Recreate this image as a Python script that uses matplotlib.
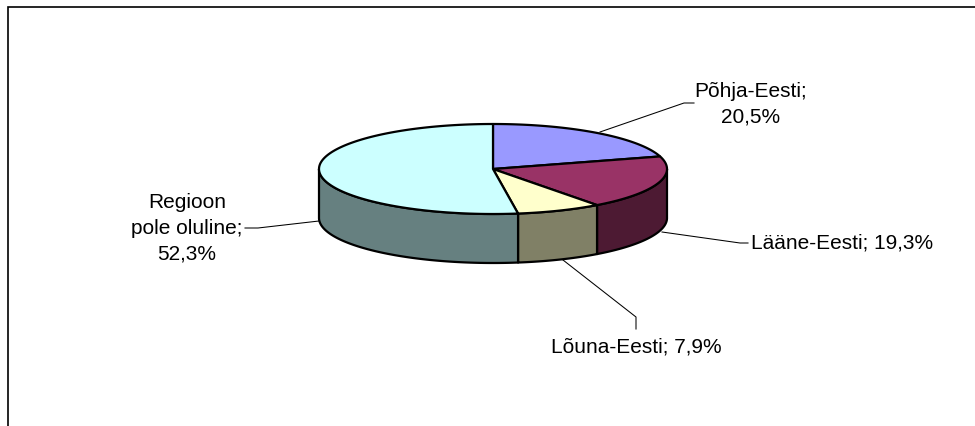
import numpy as np
import matplotlib
matplotlib.use("Agg")
import matplotlib.pyplot as plt
from matplotlib.patches import Polygon

plt.rcParams["font.family"] = ["Liberation Sans", "DejaVu Sans"]

labels = ["Põhja-Eesti;\n20,5%", "Lääne-Eesti; 19,3%", "Lõuna-Eesti; 7,9%", "Regioon\npole oluline;\n52,3%"]
values = [20.5, 19.3, 7.9, 52.3]
top_colors = ["#9999FF", "#993366", "#FFFFCC", "#CCFFFF"]
side_colors = ["#4D4D80", "#4D1A33", "#808066", "#668080"]

# pie geometry in pixels
cx, cy = 493, 169
rx, ry = 174, 45
depth = 49
edge_lw = 1.6

label_pos = [(751, 104), (751, 243), (636, 347), (187, 228)]
label_align = ["center", "left", "center", "center"]
leaders = [
    [(600, 132), (684, 103), (694, 103)],
    [(662, 232), (740, 243), (748, 243)],
    [(563, 260), (636, 317), (636, 329)],
    [(319, 221), (258, 228), (245, 228)],
]


def rim(a0, a1, dy=0):
    # points on the ellipse, angles in degrees clockwise from the top
    t = np.radians(np.linspace(a0, a1, 120))
    return np.column_stack([cx + rx * np.sin(t), cy + dy - ry * np.cos(t)])


fig = plt.figure(figsize=(9.75, 4.26), dpi=100)
ax = fig.add_axes([0, 0, 1, 1])
ax.set_xlim(0, 975)
ax.set_ylim(426, 0)
ax.axis("off")

# chart frame, cut off by the image on the right and at the bottom
ax.plot([7.5, 7.5, 975], [426, 6.5, 6.5], color="black", lw=1.2, solid_joinstyle="miter")

for pts in leaders:
    xs, ys = zip(*pts)
    ax.plot(xs, ys, color="black", lw=0.75, zorder=1)

angles = np.concatenate([[0], np.cumsum(values) * 3.6])

# outer wall, only the front half of the rim shows
for i in range(len(values)):
    a0 = max(angles[i], 90)
    a1 = min(angles[i + 1], 270)
    if a1 <= a0:
        continue
    wall = np.vstack([rim(a0, a1), rim(a0, a1, depth)[::-1]])
    ax.add_patch(Polygon(wall, closed=True, facecolor=side_colors[i], edgecolor="black",
                         lw=edge_lw, joinstyle="round", zorder=2))

for i in range(len(values)):
    top = np.vstack([[(cx, cy)], rim(angles[i], angles[i + 1])])
    ax.add_patch(Polygon(top, closed=True, facecolor=top_colors[i], edgecolor="black",
                         lw=edge_lw, joinstyle="round", zorder=3))

for text, pos, ha in zip(labels, label_pos, label_align):
    ax.text(pos[0], pos[1], text, ha=ha, va="center", fontsize=15, color="black",
            linespacing=1.45, multialignment="center")

fig.savefig("out.png", dpi=100)
